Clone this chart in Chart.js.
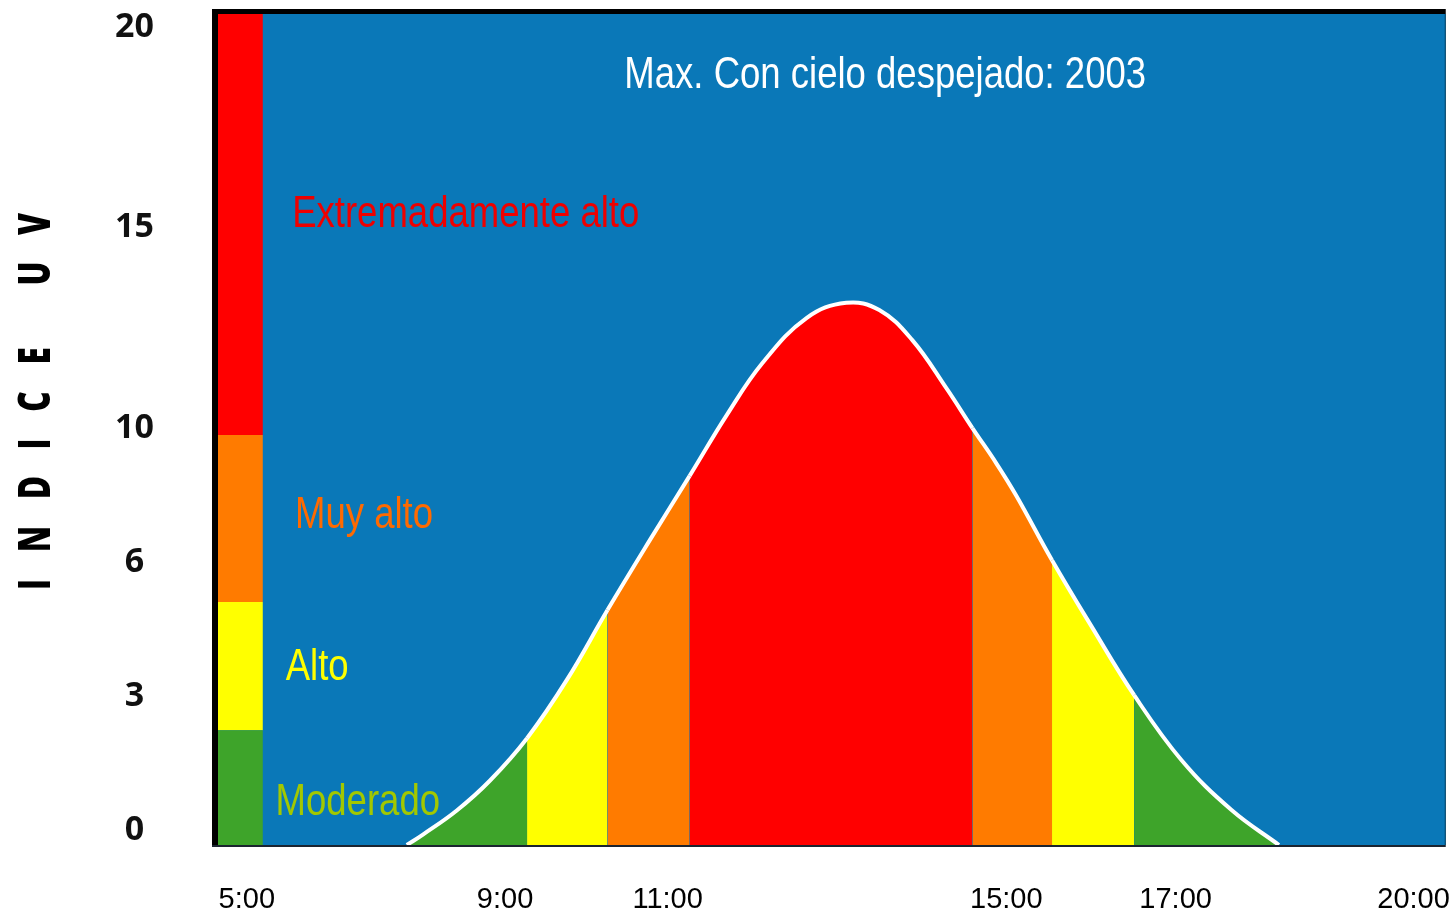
<!DOCTYPE html>
<html>
<head>
<meta charset="utf-8">
<script src="https://cdn.jsdelivr.net/npm/chart.js@4.4.1/dist/chart.umd.min.js"></script>
<style>
  html, body { margin: 0; padding: 0; background: #fff; }
</style>
</head>
<body>
<canvas id="uvChart" width="1452" height="918"></canvas>
<script>
// datos del gráfico (hora del día, índice UV)
var hours = [7.92, 8.11, 8.51, 8.90, 9.34, 9.81, 10.29, 10.79, 11.26, 11.70, 12.12, 12.64, 13.11, 13.50, 13.89, 14.29, 14.60, 14.88, 15.12, 15.54, 16.01, 16.51, 17.07, 17.66, 18.22];
var uvIndex = [-0.37, -0.11, 0.49, 1.23, 2.29, 3.74, 5.48, 7.22, 8.82, 10.34, 11.63, 12.75, 13.13, 12.95, 12.20, 11.01, 10.01, 9.14, 8.32, 6.72, 5.06, 3.36, 1.74, 0.50, -0.37];

// franjas de color bajo la curva
var bandEdges = [9.34, 10.29, 11.26, 14.60, 15.54, 16.51];
var bandNames = ['green', 'yellow', 'orange', 'red', 'orange', 'yellow', 'green'];

// escala de colores a la izquierda
var levelNames = ['Moderado', 'Alto', 'Muy alto', 'Extremadamente alto'];
var levelBounds = [-0.37, 2.49, 5.68, 9.84, 20.32];
var levelBarHours = [5.69, 6.22];

// ejes
var xTickPos = [6.03, 9.08, 11, 15, 17, 19.81];
var xTickLabels = ['5:00', '9:00', '11:00', '15:00', '17:00', '20:00'];
var yTickPos = [0, 3.33, 6.67, 10, 15, 20];
var yTickLabels = ['0', '3', '6', '10', '15', '20'];

var title = 'Max. Con cielo despejado: 2003';
var yTitle = 'INDICE UV';

var colors = {
  blue: '#0a78b8',
  green: '#3ea42a',
  yellow: '#ffff00',
  orange: '#ff7b00',
  red: '#ff0000'
};
var labelColors = ['#a2c800', '#ffff00', '#ff6a00', '#ee0000'];
var sans = "'Liberation Sans', Arial, sans-serif";

function bandColor(x) {
  var i = 0;
  while (i < bandEdges.length && x >= bandEdges[i] - 0.001) i++;
  return colors[bandNames[i]];
}

var datasets = [];
for (var i = 0; i < 4; i++) {
  datasets.push({
    data: [{x: levelBarHours[0], y: levelBounds[i + 1]}, {x: levelBarHours[1], y: levelBounds[i + 1]}],
    fill: {value: levelBounds[i]},
    backgroundColor: colors[['green', 'yellow', 'orange', 'red'][i]],
    borderWidth: 0,
    pointRadius: 0,
    tension: 0
  });
}
datasets.push({
  data: hours.map(function (h, i) { return {x: h, y: uvIndex[i]}; }),
  fill: 'start',
  backgroundColor: colors.green,
  borderColor: '#ffffff',
  borderWidth: 4,
  pointRadius: 0,
  tension: 0.4,
  segment: {
    backgroundColor: function (ctx) { return bandColor(ctx.p0.parsed.x); }
  }
});

// texto estrecho (tipo Arial Narrow)
function narrowText(ctx, text, x, y, align) {
  ctx.save();
  ctx.translate(x, y);
  ctx.scale(0.83, 1);
  ctx.textAlign = align;
  ctx.fillText(text, 0, 0);
  ctx.restore();
}

var framePlugin = {
  id: 'frame',
  beforeDraw: function (chart) {
    var a = chart.chartArea, ctx = chart.ctx;
    ctx.save();
    ctx.fillStyle = colors.blue;
    ctx.fillRect(a.left, a.top, a.right - a.left, a.bottom - a.top);
    ctx.restore();
  },
  afterDatasetsDraw: function (chart) {
    var a = chart.chartArea, ctx = chart.ctx;
    var sx = chart.scales.x, sy = chart.scales.y;
    ctx.save();
    // marco
    ctx.fillStyle = '#000';
    ctx.fillRect(a.left - 6, a.top - 5, a.right - a.left + 6, 5);
    ctx.fillRect(a.left - 6, a.top - 5, 6, a.bottom - a.top + 5);
    ctx.fillStyle = '#1b2430';
    ctx.fillRect(a.left - 6, a.bottom, a.right - a.left + 6, 2);
    ctx.fillStyle = '#06405f';
    ctx.fillRect(a.right - 1, a.top, 1, a.bottom - a.top);

    // textos de nivel
    ctx.font = '44px ' + sans;
    ctx.textBaseline = 'alphabetic';
    var lx = [6.37, 6.49, 6.60, 6.566];
    var ly = [0.37, 3.74, 7.52, 15.02];
    for (var i = 0; i < levelNames.length; i++) {
      ctx.fillStyle = labelColors[i];
      narrowText(ctx, levelNames[i], sx.getPixelForValue(lx[i]), sy.getPixelForValue(ly[i]), 'left');
    }
    ctx.fillStyle = '#fff';
    narrowText(ctx, title, sx.getPixelForValue(13.57), sy.getPixelForValue(18.48), 'center');

    // título del eje Y
    ctx.translate(50, 590);
    ctx.rotate(-Math.PI / 2);
    ctx.scale(0.72, 1);
    ctx.fillStyle = '#000';
    ctx.font = "800 44px 'Open Sans', sans-serif";
    ctx.letterSpacing = '37px';
    ctx.textAlign = 'left';
    ctx.fillText(yTitle, 0, 0);
    ctx.restore();
  }
};

var uvChart = new Chart(document.getElementById('uvChart'), {
  type: 'line',
  data: {datasets: datasets},
  options: {
    responsive: false,
    animation: false,
    layout: {padding: {top: 14, right: 5, left: 0, bottom: 0}},
    plugins: {
      legend: {display: false},
      tooltip: {enabled: false}
    },
    scales: {
      x: {
        type: 'linear',
        min: 5.69,
        max: 20.19,
        afterBuildTicks: function (s) { s.ticks = xTickPos.map(function (v) { return {value: v}; }); },
        afterFit: function (s) { s.height = 73; },
        grid: {color: 'transparent', drawOnChartArea: false, drawTicks: true, tickLength: 36},
        border: {display: false},
        ticks: {
          padding: 2,
          autoSkip: false,
          maxRotation: 0,
          color: '#000',
          font: {family: sans, size: 29},
          callback: function (v, i) { return xTickLabels[i]; }
        }
      },
      y: {
        type: 'linear',
        min: -0.37,
        max: 20.32,
        afterBuildTicks: function (s) { s.ticks = yTickPos.map(function (v) { return {value: v}; }); },
        afterFit: function (s) { s.width = 218; },
        grid: {color: 'transparent', drawOnChartArea: false, drawTicks: true, tickLength: 64},
        border: {display: false},
        ticks: {
          padding: 0,
          crossAlign: 'center',
          color: '#111',
          font: {family: "'Open Sans', sans-serif", size: 34, weight: 'bold', lineHeight: 0.6},
          callback: function (v, i) { return yTickLabels[i]; }
        }
      }
    }
  },
  plugins: [framePlugin]
});
</script>
</body>
</html>
